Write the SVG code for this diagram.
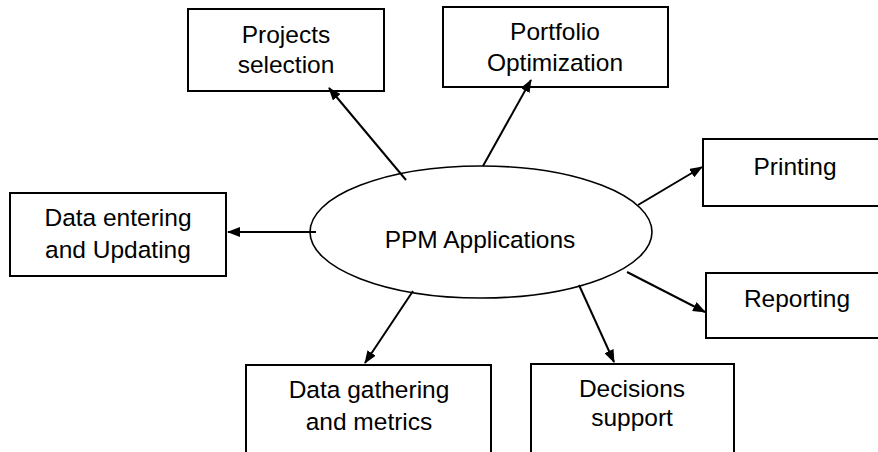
<svg xmlns="http://www.w3.org/2000/svg" width="878" height="452" viewBox="0 0 878 452">
<style>
.box{fill:#fff;stroke:#000;stroke-width:2}
.t{font-family:"Liberation Sans",Arial,sans-serif;font-size:24.5px;fill:#000;text-anchor:middle}
.c{stroke:#000;stroke-width:2;fill:none;marker-end:url(#ah)}
</style>
<defs>
<marker id="ah" markerUnits="userSpaceOnUse" markerWidth="13" markerHeight="10" refX="12" refY="5" orient="auto">
<path d="M0,0 L13,5 L0,10 z" fill="#000"/>
</marker>
</defs>
<rect width="878" height="452" fill="#fff"/>
<g id="projects">
<rect class="box" x="188" y="9" width="196" height="82"/>
<text class="t" x="286" y="43">Projects</text>
<text class="t" x="286" y="73">selection</text>
</g>
<g id="portfolio">
<rect class="box" x="443" y="7" width="225" height="80"/>
<text class="t" x="555" y="40">Portfolio</text>
<text class="t" x="555" y="71">Optimization</text>
</g>
<g id="dataentering">
<rect class="box" x="10" y="193" width="216" height="83"/>
<text class="t" x="118" y="226">Data entering</text>
<text class="t" x="118" y="258">and Updating</text>
</g>
<g id="printing">
<rect class="box" x="703" y="139" width="190" height="67"/>
<text class="t" x="795" y="175">Printing</text>
</g>
<g id="reporting">
<rect class="box" x="706" y="273" width="190" height="65"/>
<text class="t" x="797" y="307">Reporting</text>
</g>
<g id="datagathering">
<rect class="box" x="246" y="365" width="245" height="100"/>
<text class="t" x="369" y="398">Data gathering</text>
<text class="t" x="369" y="430">and metrics</text>
</g>
<g id="decisions">
<rect class="box" x="531" y="364" width="203" height="100"/>
<text class="t" x="632" y="397">Decisions</text>
<text class="t" x="632" y="426">support</text>
</g>
<g id="ppm">
<ellipse cx="481" cy="232" rx="171" ry="66" fill="#fff" stroke="#000" stroke-width="1.6"/>
<text class="t" x="480" y="248">PPM Applications</text>
</g>
<g id="connectors">
<line class="c" x1="406" y1="180" x2="329" y2="88"/>
<line class="c" x1="483" y1="166" x2="531" y2="80"/>
<line class="c" x1="316" y1="232" x2="228" y2="232"/>
<line class="c" x1="638" y1="205" x2="702" y2="167"/>
<line class="c" x1="627" y1="272" x2="705" y2="312"/>
<line class="c" x1="413" y1="291" x2="365" y2="363"/>
<line class="c" x1="579" y1="285" x2="614" y2="362"/>
</g>
</svg>
